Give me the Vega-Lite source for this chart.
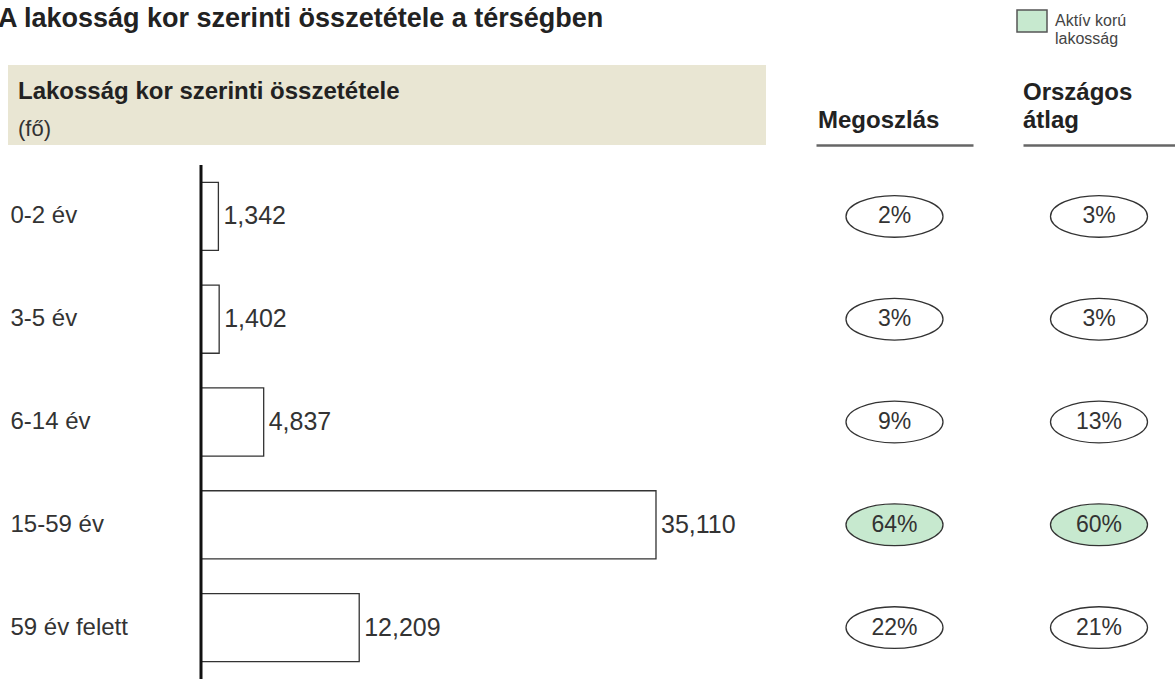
{
  "$schema": "https://vega.github.io/schema/vega-lite/v6.json",
  "padding": {"left": -2, "top": 5, "right": 0, "bottom": 0},
  "background": "white",
  "title": {"text": "A lakosság kor szerinti összetétele a térségben", "anchor": "start", "dx": -10, "offset": -28, "font": "Liberation Sans", "fontSize": 27, "fontWeight": "bold", "color": "#222222"},
  "config": {"font": "Liberation Sans", "view": {"stroke": null}, "legend": {"labelFont": "Liberation Sans", "labelFontSize": 16, "labelColor": "#444444"}},
  "datasets": {
    "lakossag": [
      {"kor": "0-2 év", "fo": 1342, "megoszlas": 0.02, "orszagos": 0.03, "csoport": "Egyéb"},
      {"kor": "3-5 év", "fo": 1402, "megoszlas": 0.03, "orszagos": 0.03, "csoport": "Egyéb"},
      {"kor": "6-14 év", "fo": 4837, "megoszlas": 0.09, "orszagos": 0.13, "csoport": "Egyéb"},
      {"kor": "15-59 év", "fo": 35110, "megoszlas": 0.64, "orszagos": 0.60, "csoport": "Aktív korú lakosság"},
      {"kor": "59 év felett", "fo": 12209, "megoszlas": 0.22, "orszagos": 0.21, "csoport": "Egyéb"}
    ]
  },
  "columns": 3,
  "align": "each",
  "spacing": {"row": 18, "column": 50},
  "resolve": {"scale": {"fill": "shared"}, "legend": {"fill": "shared"}},
  "concat": [
    {
      "width": 758, "height": 80,
      "view": {"fill": "#e9e6d3", "stroke": null},
      "title": {"text": "Lakosság kor szerinti összetétele", "subtitle": "(fő)", "anchor": "start", "dx": 10, "offset": -75, "font": "Liberation Sans", "fontSize": 24, "fontWeight": "bold", "color": "#222222", "subtitleFont": "Liberation Sans", "subtitleFontSize": 22, "subtitleColor": "#333333", "subtitlePadding": 15},
      "data": {"name": "lakossag"},
      "mark": {"type": "text", "text": ""}
    },
    {
      "width": 157, "height": 80,
      "title": {"text": "Megoszlás", "anchor": "start", "dx": 2, "offset": -67.5, "font": "Liberation Sans", "fontSize": 24, "fontWeight": "bold", "color": "#222222"},
      "data": {"name": "lakossag"},
      "mark": {"type": "text", "text": ""},
      "encoding": {"x": {"datum": 0, "type": "quantitative", "scale": {"domain": [0, 1]}, "axis": {"domain": true, "domainColor": "#666666", "domainWidth": 2.5, "ticks": false, "labels": false, "grid": false, "title": null}}}
    },
    {
      "width": 152, "height": 80,
      "title": {"text": ["Országos", "átlag"], "lineHeight": 28, "anchor": "start", "dx": 0, "offset": -67.5, "font": "Liberation Sans", "fontSize": 24, "fontWeight": "bold", "color": "#222222"},
      "data": {"name": "lakossag"},
      "mark": {"type": "text", "text": ""},
      "encoding": {"x": {"datum": 0, "type": "quantitative", "scale": {"domain": [0, 1]}, "axis": {"domain": true, "domainColor": "#666666", "domainWidth": 2.5, "ticks": false, "labels": false, "grid": false, "title": null}}}
    },
    {
      "width": 758, "height": 514,
      "layer": [
        {"data": {"name": "lakossag"},
          "mark": {"type": "bar", "fill": "#ffffff", "stroke": "#333333", "strokeWidth": 1.3},
          "encoding": {
            "y": {"field": "kor", "type": "nominal", "sort": null, "scale": {"paddingInner": 0.338, "paddingOuter": 0.169},
              "axis": {"title": null, "domain": false, "ticks": false, "tickSize": 0, "labelAlign": "left", "labelBaseline": "middle", "labelPadding": -2, "labelFontSize": 24, "labelColor": "#333333", "labelFont": "Liberation Sans", "labelLimit": 300, "grid": false}},
            "x": {"field": "fo", "type": "quantitative", "scale": {"domain": [-14893, 43599], "nice": false, "zero": false}, "axis": null}}},
        {"data": {"name": "lakossag"},
          "mark": {"type": "text", "align": "left", "baseline": "middle", "dx": 5, "fontSize": 25, "color": "#333333"},
          "encoding": {
            "y": {"field": "kor", "type": "nominal", "sort": null},
            "x": {"field": "fo", "type": "quantitative"},
            "text": {"field": "fo", "type": "quantitative", "format": ","}}},
        {"data": {"values": [{}]},
          "mark": {"type": "rule", "color": "#111111", "strokeWidth": 3},
          "encoding": {"x": {"datum": 0, "type": "quantitative"}}}
      ]
    },
    {
      "width": 157, "height": 514,
      "data": {"name": "lakossag"},
      "encoding": {"y": {"field": "kor", "type": "nominal", "sort": null, "scale": {"paddingInner": 0.338, "paddingOuter": 0.169}, "axis": null}},
      "layer": [
        {"mark": {"type": "point", "filled": true, "shape": "M-1,0A1,0.43,0,1,1,1,0A1,0.43,0,1,1,-1,0Z", "size": 9409, "stroke": "#333333", "strokeWidth": 1.3, "opacity": 1},
          "encoding": {"fill": {"field": "csoport", "type": "nominal", "scale": {"domain": ["Aktív korú lakosság", "Egyéb"], "range": ["#c7e9cf", "#ffffff"]},
            "legend": {"values": ["Aktív korú lakosság"], "orient": "none", "legendX": 1008, "legendY": -60, "title": null, "symbolType": "M-1,-0.73H1V0.73H-1Z", "symbolSize": 900, "symbolStrokeColor": "#555555", "symbolStrokeWidth": 1.5, "labelFont": "Liberation Sans", "labelFontSize": 16, "labelColor": "#444444", "labelOffset": 7, "padding": 0, "labelBaseline": "middle", "labelExpr": "datum.label == 'Aktív korú lakosság' ? ['Aktív korú', 'lakosság'] : datum.label",
              "encode": {"labels": {"update": {"lineHeight": {"value": 21}}}, "symbols": {"update": {"stroke": {"value": "#555555"}, "strokeWidth": {"value": 1.5}}}}}}}},
        {"mark": {"type": "text", "fontSize": 23, "color": "#333333"},
          "encoding": {"text": {"field": "megoszlas", "type": "quantitative", "format": ".0%"}}}
      ]
    },
    {
      "width": 152, "height": 514,
      "data": {"name": "lakossag"},
      "encoding": {"y": {"field": "kor", "type": "nominal", "sort": null, "scale": {"paddingInner": 0.338, "paddingOuter": 0.169}, "axis": null}},
      "layer": [
        {"mark": {"type": "point", "filled": true, "shape": "M-1,0A1,0.43,0,1,1,1,0A1,0.43,0,1,1,-1,0Z", "size": 9409, "stroke": "#333333", "strokeWidth": 1.3, "opacity": 1},
          "encoding": {"fill": {"field": "csoport", "type": "nominal", "scale": {"domain": ["Aktív korú lakosság", "Egyéb"], "range": ["#c7e9cf", "#ffffff"]},
            "legend": {"values": ["Aktív korú lakosság"], "orient": "none", "legendX": 1008, "legendY": -60, "title": null, "symbolType": "M-1,-0.73H1V0.73H-1Z", "symbolSize": 900, "symbolStrokeColor": "#555555", "symbolStrokeWidth": 1.5, "labelFont": "Liberation Sans", "labelFontSize": 16, "labelColor": "#444444", "labelOffset": 7, "padding": 0, "labelBaseline": "middle", "labelExpr": "datum.label == 'Aktív korú lakosság' ? ['Aktív korú', 'lakosság'] : datum.label",
              "encode": {"labels": {"update": {"lineHeight": {"value": 21}}}, "symbols": {"update": {"stroke": {"value": "#555555"}, "strokeWidth": {"value": 1.5}}}}}}}},
        {"mark": {"type": "text", "fontSize": 23, "color": "#333333"},
          "encoding": {"text": {"field": "orszagos", "type": "quantitative", "format": ".0%"}}}
      ]
    }
  ]
}
